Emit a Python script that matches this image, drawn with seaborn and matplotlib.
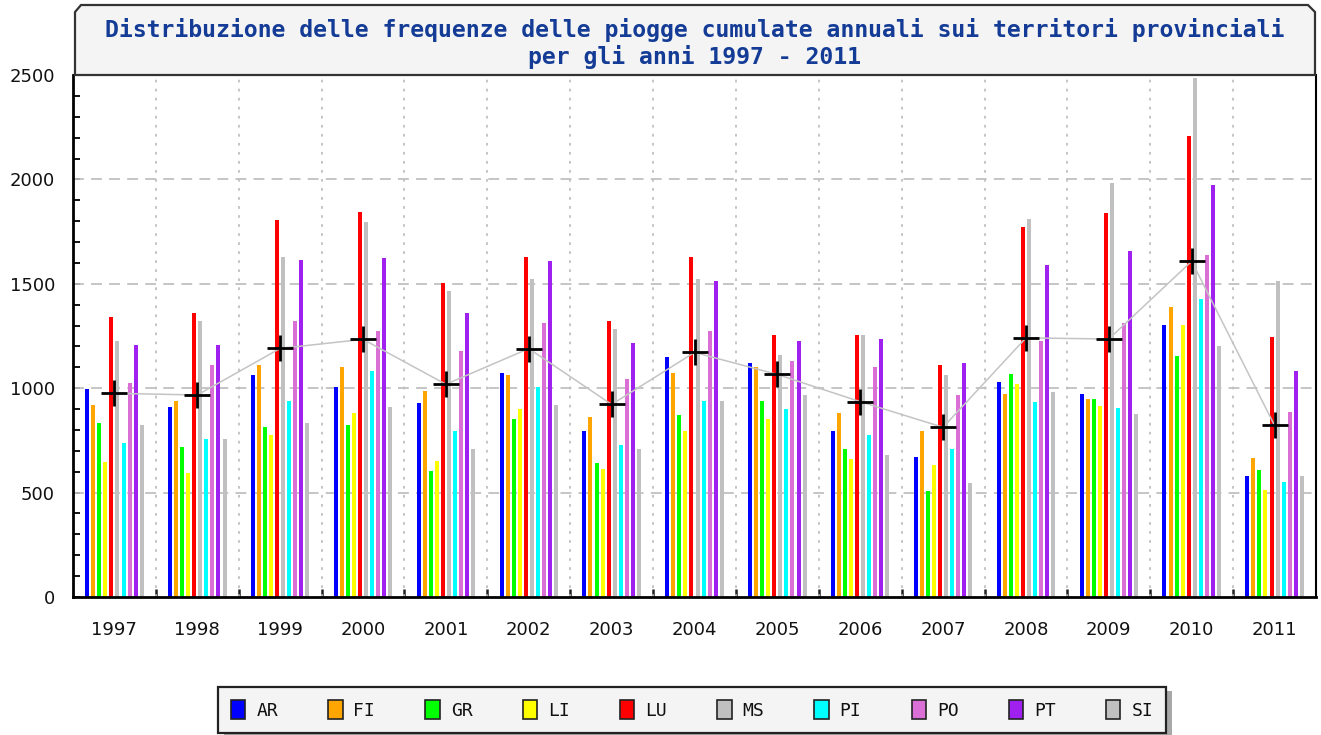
import numpy as np
import pandas as pd
import matplotlib
matplotlib.use("Agg")
import matplotlib.pyplot as plt
import seaborn as sns
from matplotlib.patches import Patch, Polygon
from matplotlib.ticker import MultipleLocator, FixedLocator

# ---------------- data ----------------
years = ["1997", "1998", "1999", "2000", "2001", "2002", "2003", "2004",
         "2005", "2006", "2007", "2008", "2009", "2010", "2011"]
provinces = ["AR", "FI", "GR", "LI", "LU", "MS", "PI", "PO", "PT", "SI"]

AR = [996, 910, 1063, 1006, 929, 1074, 795, 1151, 1121, 795, 670, 1032, 972, 1302, 579]
FI = [919, 939, 1111, 1101, 987, 1063, 862, 1074, 1103, 881, 795, 972, 946, 1388, 666]
GR = [832, 718, 814, 824, 603, 852, 642, 872, 939, 709, 508, 1070, 946, 1156, 607]
LI = [648, 594, 776, 880, 651, 900, 613, 795, 852, 661, 632, 1021, 916, 1302, 511]
LU = [1342, 1362, 1805, 1844, 1505, 1630, 1323, 1630, 1256, 1256, 1112, 1773, 1839, 2206, 1244]
MS = [1227, 1323, 1628, 1796, 1467, 1525, 1285, 1525, 1159, 1256, 1065, 1812, 1984, 2484, 1513]
PI = [736, 755, 939, 1082, 795, 1007, 728, 939, 900, 776, 709, 935, 906, 1425, 550]
PO = [1026, 1111, 1323, 1274, 1180, 1314, 1046, 1275, 1132, 1103, 969, 1224, 1313, 1640, 886]
PT = [1207, 1208, 1614, 1623, 1362, 1611, 1218, 1515, 1228, 1237, 1122, 1589, 1657, 1974, 1080]
SI = [822, 755, 833, 910, 709, 921, 709, 939, 967, 680, 546, 982, 877, 1203, 579]

series = {"AR": AR, "FI": FI, "GR": GR, "LI": LI, "LU": LU,
          "MS": MS, "PI": PI, "PO": PO, "PT": PT, "SI": SI}

colors = {"AR": "#0000ff", "FI": "#ffa500", "GR": "#00ff00", "LI": "#ffff00",
          "LU": "#ff0000", "MS": "#c0c0c0", "PI": "#00ffff", "PO": "#da70d6",
          "PT": "#a020f0", "SI": "#c0c0c0"}

title_lines = ["Distribuzione delle frequenze delle piogge cumulate annuali sui territori provinciali",
               "per gli anni 1997 - 2011"]
y_ticks = [0, 500, 1000, 1500, 2000, 2500]

rows = []
for p in provinces:
    for y, v in zip(years, series[p]):
        rows.append({"anno": y, "prov": p, "valore": v})
df = pd.DataFrame(rows)
means = df.groupby("anno", sort=False)["valore"].mean().reindex(years).values

# ---------------- figure ----------------
sns.set_theme(style="white")
W, H = 1321, 735
fig = plt.figure(figsize=(W / 100, H / 100), dpi=100)
fig.patch.set_facecolor("white")

def fx(px):
    return px / W

def fy(py):
    return 1 - py / H

ax = fig.add_axes([fx(73), fy(597), fx(1316) - fx(73), fy(75) - fy(597)])
ax.set_facecolor("white")

sns.barplot(data=df, x="anno", y="valore", hue="prov", order=years,
            hue_order=provinces, palette=colors, width=0.73, gap=0.34,
            saturation=1, linewidth=0, legend=False, ax=ax, zorder=2)

xs = np.arange(len(years))
ax.plot(xs, means, color="#c4c4c4", lw=1.1, zorder=3)
ax.plot(xs, means, ls="none", marker="+", ms=19, mew=2, color="black", zorder=4)

ax.set_ylim(0, 2500)
ax.set_xlim(-0.5, len(years) - 0.5)
ax.set_xlabel("")
ax.set_ylabel("")

# grid
for v in y_ticks[1:]:
    ax.axhline(v, color="#c0c0c0", lw=1.3, ls=(0, (6, 4)), zorder=1)
for b in np.arange(0.5, len(years) - 0.5, 1):
    ax.axvline(b, color="#c0c0c0", lw=1.3, ls=(0, (1.5, 3.5)), zorder=1)

# ticks
ax.yaxis.set_major_locator(FixedLocator(y_ticks))
ax.yaxis.set_minor_locator(MultipleLocator(100))
ax.set_yticklabels([str(v) for v in y_ticks])
ax.tick_params(axis="y", which="both", direction="in", length=5, width=1.3,
               color="black", left=True, labelsize=13, pad=13, labelcolor="#111111")
ax.xaxis.set_minor_locator(FixedLocator(np.arange(0.5, len(years) - 0.5, 1)))
ax.tick_params(axis="x", which="major", length=0, labelsize=13, pad=17, labelcolor="#111111")
ax.tick_params(axis="x", which="minor", direction="in", length=6, width=1.8,
               color="#222222", bottom=True)

for lab in ax.get_xticklabels() + ax.get_yticklabels():
    lab.set_family("DejaVu Sans")

for s in ["left", "bottom"]:
    ax.spines[s].set_visible(True)
    ax.spines[s].set_color("black")
    ax.spines[s].set_linewidth(2)
ax.spines["right"].set_visible(True)
ax.spines["right"].set_color("black")
ax.spines["right"].set_linewidth(1.5)
ax.spines["top"].set_visible(False)

# title box
pts = [(75, 75), (75, 12), (81, 5), (1308, 5), (1315, 12), (1315, 75)]
poly = Polygon([(fx(x), fy(y)) for x, y in pts], closed=True,
               transform=fig.transFigure, facecolor="#f4f4f4",
               edgecolor="#333333", lw=1.6, zorder=0)
fig.patches.append(poly)
fig.text(fx(695), fy(30), title_lines[0], ha="center", va="center",
         fontsize=16.7, family="DejaVu Sans Mono", weight="bold", color="#143c96")
fig.text(fx(695), fy(57), title_lines[1], ha="center", va="center",
         fontsize=16.7, family="DejaVu Sans Mono", weight="bold", color="#143c96")

# legend
handles = [Patch(facecolor=colors[p], edgecolor="#222222", lw=1.2, label=p) for p in provinces]
leg = fig.legend(handles=handles, ncol=10, loc="center",
                 bbox_to_anchor=(fx(692), fy(710)), frameon=True, fancybox=False,
                 shadow={"ox": 4, "oy": -3, "facecolor": "#a8a8a8", "edgecolor": "none", "alpha": 1},
                 prop={"family": "DejaVu Sans Mono", "size": 13},
                 handlelength=0.8, handleheight=1.2, handletextpad=0.6,
                 columnspacing=2.78, borderpad=0.72, borderaxespad=0)
leg.get_frame().set_facecolor("#f4f4f4")
leg.get_frame().set_edgecolor("#222222")
leg.get_frame().set_linewidth(1.6)
for t in leg.get_texts():
    t.set_color("#111111")

fig.savefig("out.png", dpi=100, facecolor="white")
